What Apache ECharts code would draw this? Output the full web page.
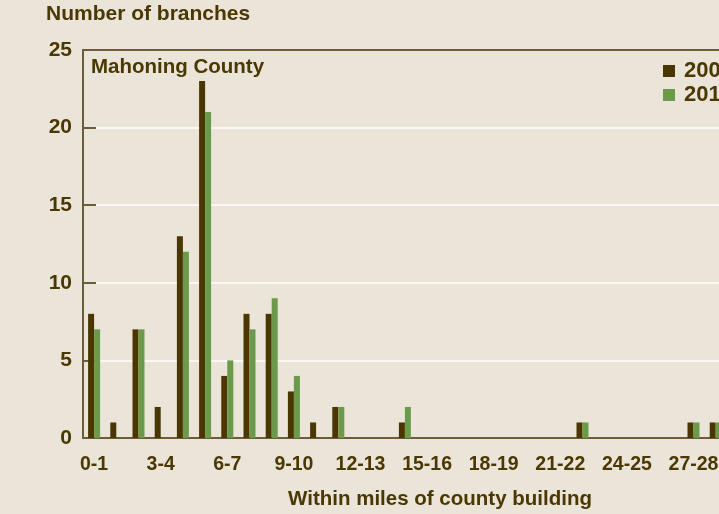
<!DOCTYPE html>
<html>
<head>
<meta charset="utf-8">
<script src="https://cdn.jsdelivr.net/npm/echarts@6/dist/echarts.min.js"></script>
<style>
  html, body { margin: 0; padding: 0; background: #ebe4d9; overflow: hidden; }
  #chart { width: 760px; height: 514px; }
</style>
</head>
<body>
<div id="chart"></div>
<script>
// distance bands in miles
var categories = ['0-1', '1-2', '2-3', '3-4', '4-5', '5-6', '6-7', '7-8', '8-9', '9-10',
  '10-11', '11-12', '12-13', '13-14', '14-15', '15-16', '16-17', '17-18', '18-19', '19-20',
  '20-21', '21-22', '22-23', '23-24', '24-25', '25-26', '26-27', '27-28', '28-29', '29-30']
var branchesA = [8, 1, 7, 2, 13, 23, 4, 8, 8, 3, 1, 2, 0, 0, 1, 0, 0, 0, 0, 0, 0, 0, 1, 0, 0, 0, 0, 1, 1, 0]
var branchesB = [7, 0, 7, 0, 12, 21, 5, 7, 9, 4, 0, 2, 0, 0, 2, 0, 0, 0, 0, 0, 0, 0, 1, 0, 0, 0, 0, 1, 1, 0]
var seriesNames = ['2006', '2013']

var textColor = '#4a3800'
var axisColor = '#6e5c38'
var fontFam = 'Liberation Sans, Arial, sans-serif'

var myChart = echarts.init(document.getElementById('chart'))
var option = {
  backgroundColor: '#ebe4d9',
  animation: false,
  title: [
    {
      text: 'Number of branches',
      left: 46,
      top: 4,
      padding: 0,
      textStyle: { fontFamily: fontFam, fontSize: 21, fontWeight: 'bold', color: textColor }
    },
    {
      text: 'Mahoning County',
      left: 91,
      top: 57,
      padding: 0,
      textStyle: { fontFamily: fontFam, fontSize: 20.5, fontWeight: 'bold', color: textColor }
    }
  ],
  legend: {
    orient: 'vertical',
    left: 663,
    top: 60,
    padding: 0,
    itemWidth: 12,
    itemHeight: 12,
    itemGap: 2,
    icon: 'rect',
    textStyle: { fontFamily: fontFam, fontSize: 22, fontWeight: 'bold', color: textColor, padding: [0, 0, 0, 4] },
    data: seriesNames
  },
  grid: {
    left: 83,
    right: 11,
    top: 50,
    bottom: 76,
    outerBoundsMode: 'none'
  },
  xAxis: [
    {
      type: 'category',
      data: categories,
      name: 'Within miles of county building',
      nameLocation: 'middle',
      nameGap: 51,
      nameTextStyle: { fontFamily: fontFam, fontSize: 20.5, fontWeight: 'bold', color: textColor, padding: [0, 0, 0, 48] },
      axisLine: { lineStyle: { color: axisColor, width: 2 } },
      axisTick: { show: false },
      axisLabel: {
        interval: 2,
        margin: 17,
        fontFamily: fontFam,
        fontSize: 19.5,
        fontWeight: 'bold',
        color: textColor
      }
    },
    {
      type: 'category',
      position: 'top',
      data: categories,
      axisLine: { show: true, lineStyle: { color: axisColor, width: 2 } },
      axisTick: { show: false },
      axisLabel: { show: false }
    }
  ],
  yAxis: {
    type: 'value',
    min: 0,
    max: 25,
    interval: 5,
    axisLine: { show: true, lineStyle: { color: axisColor, width: 2 } },
    axisTick: { show: true, inside: true, length: 13, lineStyle: { color: axisColor, width: 2 } },
    axisLabel: {
      margin: 11,
      fontFamily: fontFam,
      fontSize: 21,
      fontWeight: 'bold',
      color: textColor
    },
    splitLine: { show: true, lineStyle: { color: '#ffffff', width: 1.5 } }
  },
  series: [
    {
      name: seriesNames[0],
      type: 'bar',
      barWidth: 6,
      barGap: '0%',
      itemStyle: { color: '#4a3600' },
      data: branchesA
    },
    {
      name: seriesNames[1],
      type: 'bar',
      barWidth: 6,
      itemStyle: { color: '#6a9a4a' },
      data: branchesB
    }
  ]
}
myChart.setOption(option, true)
</script>
</body>
</html>
